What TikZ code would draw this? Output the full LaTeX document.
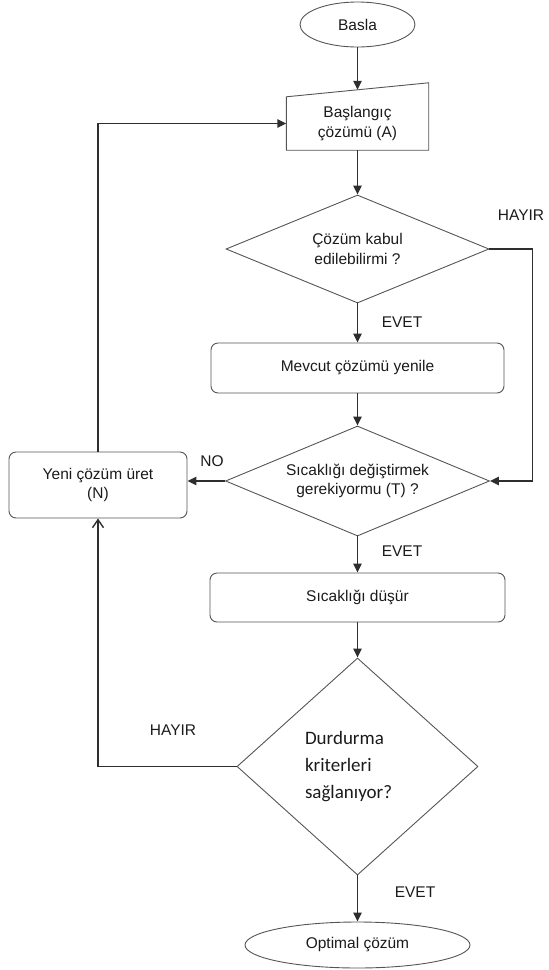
\documentclass[tikz,border=0pt]{standalone}
\usepackage{fontspec}
\setmainfont{Liberation Sans}
\newfontfamily\calibri{Carlito}
\usepackage{tikz}
\usetikzlibrary{arrows.meta,positioning,shapes.geometric,calc}
\definecolor{linegray}{HTML}{2E2E2E}
\definecolor{boxgray}{HTML}{555555}
\definecolor{textgray}{HTML}{1A1A1A}

\begin{document}
\begin{tikzpicture}[x=1pt,y=-1pt,
  font=\fontsize{15.5}{19.5}\selectfont, text=textgray,
  >={Triangle[length=9pt,width=8.5pt]},
  flow/.style={->,draw=linegray,line width=1.4pt},
  proc/.style={draw=boxgray,line width=0.9pt,rounded corners=7pt,minimum height=50pt,align=center},
  decide/.style={draw=boxgray,line width=0.9pt,diamond,inner sep=0pt,align=center},
  term/.style={draw=boxgray,line width=0.9pt,ellipse,inner sep=0pt},
  lbl/.style={inner sep=0pt}]
  \useasboundingbox (0,0) rectangle (549,970);
  % main column
  \node[term,minimum width=115pt,minimum height=45pt] (basla) at (357.5,24.5) {Basla};
  \node[minimum width=142pt,minimum height=53pt,inner sep=0pt,align=center] (init) at (357.5,123.5)
    {Başlangıç\\çözümü (A)};
  \draw[draw=boxgray,line width=0.9pt] (init.south west) -- (init.south east)
    -- ($(init.north east)+(0,-14)$) -- (init.north west) -- cycle;
  \coordinate (inittop) at ($(init.north)+(0,-7)$);
  \node[decide,aspect=2.4,minimum width=263pt,minimum height=108pt] (dec1) at (357.5,249)
    {Çözüm kabul\\edilebilirmi ?};
  \node[proc,minimum width=293pt] (mevcut) at (357.5,368) {Mevcut çözümü yenile};
  \node[decide,aspect=2.4,minimum width=264pt,minimum height=110pt] (dec2) at (357.5,481)
    {Sıcaklığı değiştirmek\\gerekiyormu (T) ?};
  \node[proc,minimum width=295pt,minimum height=49pt] (dusur) at (357.5,597.5) {Sıcaklığı düşür};
  \node[decide,aspect=1.1,minimum width=241pt,minimum height=217pt,text width=105pt,align=left,
    font=\calibri\fontsize{19}{27}\selectfont] (dec3) at (357.5,766.5)
    {Durdurma\\kriterleri\\sağlanıyor?};
  \node[term,minimum width=225pt,minimum height=46pt] (optimal) at (357.5,945) {Optimal çözüm};
  % side box
  \node[proc,minimum width=178pt,minimum height=66pt] (yeni) at (98,485) {Yeni çözüm üret\\(N)};
  % labels
  \node[lbl] (hayir1) at (521,215) {HAYIR};
  \node[lbl] (evet1) at (402,322) {EVET};
  \node[lbl] (no) at (212,461) {NO};
  \node[lbl] (evet2) at (402,551) {EVET};
  \node[lbl] (hayir2) at (173,730) {HAYIR};
  \node[lbl] (evet3) at (415,892) {EVET};
  % connectors
  \draw[flow] (basla.south) -- (inittop);
  \draw[flow] (init.south) -- (dec1.north);
  \draw[flow] (dec1.south) -- (mevcut.north);
  \draw[flow] (mevcut.south) -- (dec2.north);
  \draw[flow] (dec2.south) -- (dusur.north);
  \draw[flow] (dusur.south) -- (dec3.north);
  \draw[flow] (dec3.south) -- (optimal.north);
  \draw[flow] (dec1.east) -- ++(43,0) |- (dec2.east);
  \draw[flow] (dec2.west) -- (dec2.west -| yeni.east);
  \draw[flow] (yeni.north) |- (init.west);
  \draw[flow,-{Straight Barb[length=8pt,width=11pt]}] (dec3.west) -| (yeni.south);
\end{tikzpicture}
\end{document}
